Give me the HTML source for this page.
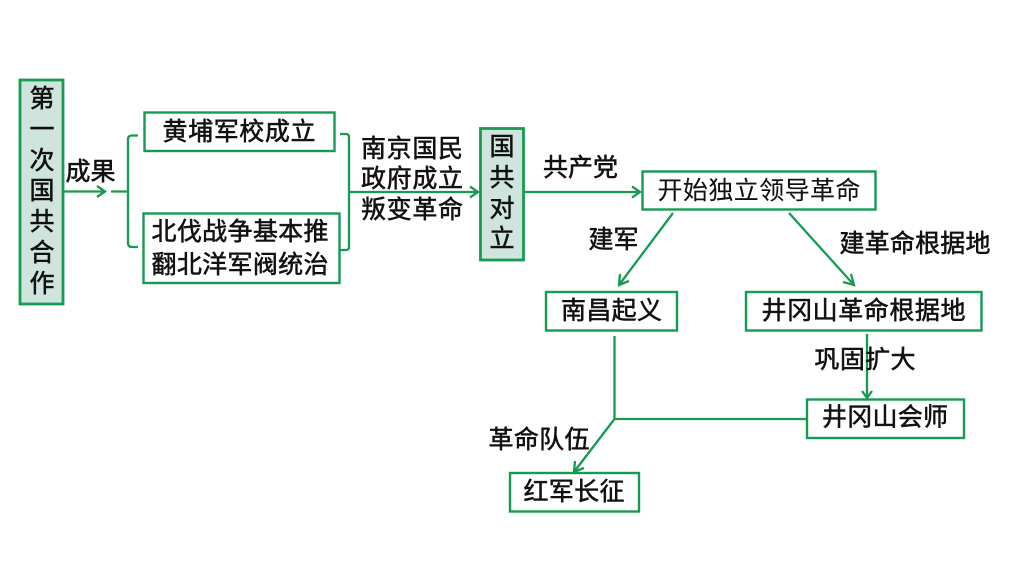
<!DOCTYPE html>
<html lang="zh">
<head>
<meta charset="utf-8">
<style>
html,body{margin:0;padding:0;background:#fff;width:1024px;height:576px;overflow:hidden}
svg{display:block}
text{font-family:"Liberation Sans","Noto Sans CJK SC",sans-serif;font-size:25px;fill:#111;text-anchor:middle;stroke:#111;stroke-width:.55px}
.b{fill:#fff;stroke:#179a52;stroke-width:2.4}
.g{fill:#cfe4dc;stroke:#179a52;stroke-width:2.8}
.l{fill:none;stroke:#179a52;stroke-width:2.3}
.t{stroke-width:.1px}
</style>
</head>
<body>
<svg width="1024" height="576" viewBox="0 0 1024 576" xmlns="http://www.w3.org/2000/svg">
<rect x="0" y="0" width="1024" height="576" fill="#fff"/>

<!-- connectors -->
<path class="l" d="M63 191.5H105M97 186L105 191.5L97 197"/>
<path class="l" d="M111 191.5H128M138 135.5H132Q128 135.5 128 139.500V243Q128 247 132 247H138"/>
<path class="l" d="M340 134H346Q349 134 349 137V247Q349 250 346 250H340"/>
<path class="l" d="M349 192H478M470 186.500L478 192L470 197.500"/>
<path class="l" d="M525 192H640M632 186.500L640 192L632 197.500"/>
<path class="l" d="M673 213L619 285M620 274L619 285L629 281"/>
<path class="l" d="M789 213L854 285M851 274L854 285L843 282"/>
<path class="l" d="M867 334V398M862 391L867 398L872 391"/>
<path class="l" d="M614.500 336V419M614.500 419H807M614.500 419L574 472M575 461L574 472L584 468"/>

<!-- boxes -->
<rect class="g" x="20" y="80" width="43" height="224"/>
<rect class="b" x="144.500" y="112.500" width="190" height="38.500"/>
<rect class="b" x="143.500" y="213.500" width="196" height="69.500"/>
<rect class="g" x="480.500" y="128.500" width="43" height="131.500"/>
<rect class="b" x="642.500" y="171.500" width="233" height="38"/>
<rect class="b" x="546" y="292" width="131" height="38.500"/>
<rect class="b" x="746" y="292" width="235.500" height="38.500"/>
<rect class="b" x="807" y="399.500" width="157" height="38.500"/>
<rect class="b" x="510" y="473" width="129" height="38.500"/>

<!-- vertical text -->
<text x="42" y="107">第</text>
<text x="42" y="138">一</text>
<text x="42" y="169">次</text>
<text x="42" y="199">国</text>
<text x="42" y="230">共</text>
<text x="42" y="261">合</text>
<text x="42" y="292">作</text>

<text x="502" y="155">国</text>
<text x="502" y="186">共</text>
<text x="502" y="217">对</text>
<text x="502" y="247">立</text>

<!-- labels -->
<text x="90.500" y="180" textLength="50" lengthAdjust="spacing">成果</text>
<text x="239" y="140" textLength="153" lengthAdjust="spacing">黄埔军校成立</text>
<text x="240" y="240" textLength="177" lengthAdjust="spacing">北伐战争基本推</text>
<text x="240" y="273" textLength="177" lengthAdjust="spacing">翻北洋军阀统治</text>
<text x="412" y="157" textLength="102" lengthAdjust="spacing">南京国民</text>
<text x="412" y="187" textLength="102" lengthAdjust="spacing">政府成立</text>
<text x="412" y="218" textLength="102" lengthAdjust="spacing">叛变革命</text>
<text x="580.500" y="176" textLength="75" lengthAdjust="spacing">共产党</text>
<text class="t" x="759" y="199" textLength="203" lengthAdjust="spacing">开始独立领导革命</text>
<text x="613.500" y="248" textLength="50" lengthAdjust="spacing">建军</text>
<text x="915" y="252" textLength="151" lengthAdjust="spacing">建革命根据地</text>
<text x="611.500" y="319" textLength="101" lengthAdjust="spacing">南昌起义</text>
<text x="863.500" y="319" textLength="204" lengthAdjust="spacing">井冈山革命根据地</text>
<text x="865" y="368" textLength="101" lengthAdjust="spacing">巩固扩大</text>
<text x="885" y="425.500" textLength="126" lengthAdjust="spacing">井冈山会师</text>
<text x="539" y="448" textLength="101" lengthAdjust="spacing">革命队伍</text>
<text x="574" y="500" textLength="101" lengthAdjust="spacing">红军长征</text>
</svg>
</body>
</html>
